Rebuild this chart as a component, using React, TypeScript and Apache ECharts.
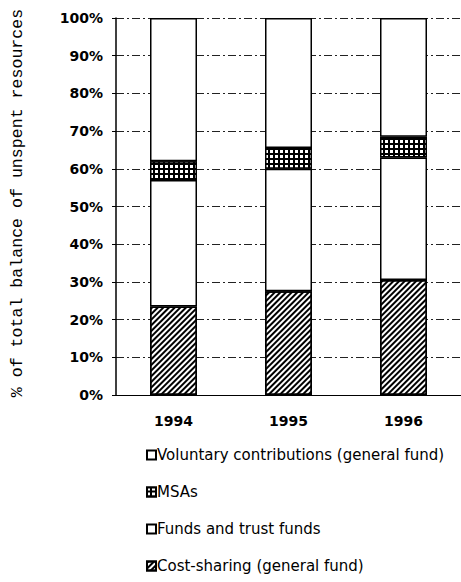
import React, { useEffect, useRef } from "react";
import * as echarts from "echarts";

const years = ["1994", "1995", "1996"];
const costSharing = [23.5, 27.5, 30.5];
const fundsTrust = [33.5, 32.5, 32.5];
const msas = [5, 5.5, 5.5];
const voluntary = [38, 34.5, 31.5];
const seriesNames = [
  "Voluntary contributions (general fund)",
  "MSAs",
  "Funds and trust funds",
  "Cost-sharing (general fund)",
];
const yTitle = "% of total balance of unspent resources";

export default function App() {
  const ref = useRef<HTMLDivElement>(null);
  useEffect(() => {
    const chart = echarts.init(ref.current!, null, { renderer: "svg" });
    const border = { borderColor: "#000", borderWidth: 1.5 };
    chart.setOption({
      animation: false,
      backgroundColor: "#fff",
      textStyle: { fontFamily: "DejaVu Sans, sans-serif" },
      grid: { left: 116, top: 18, width: 349, height: 377 },
      legend: {
        orient: "vertical",
        left: 146,
        top: 447,
        padding: 0,
        itemWidth: 9,
        itemHeight: 9,
        itemGap: 21,
        icon: "rect",
        data: seriesNames,
        textStyle: {
          fontSize: 15,
          color: "#000",
          fontFamily: "DejaVu Sans, sans-serif",
          padding: [0, 0, 0, -4],
          lineHeight: 16,
        },
      },
      xAxis: {
        type: "category",
        data: years,
        axisLine: { lineStyle: { color: "#000", width: 1.2 } },
        axisTick: { show: false },
        axisLabel: {
          fontSize: 14,
          fontWeight: "bold",
          color: "#000",
          margin: 19,
          fontFamily: "DejaVu Sans, sans-serif",
        },
      },
      yAxis: {
        type: "value",
        min: 0,
        max: 100,
        interval: 10,
        axisLine: { show: true, lineStyle: { color: "#000", width: 1.5 } },
        axisTick: { show: true, length: 4, lineStyle: { color: "#000" } },
        axisLabel: {
          formatter: "{value}%",
          fontSize: 14,
          fontWeight: "bold",
          color: "#000",
          margin: 13,
          fontFamily: "DejaVu Sans, sans-serif",
        },
        splitLine: {
          show: true,
          lineStyle: { color: "#222", width: 1, type: [8, 3, 2, 3] },
        },
      },
      graphic: [
        {
          type: "text",
          x: 17,
          y: 203,
          rotation: Math.PI / 2,
          style: {
            text: yTitle,
            fontFamily: "Liberation Mono, Courier New, monospace",
            fontSize: 16.6,
            fill: "#000",
            textAlign: "center",
            textVerticalAlign: "middle",
          },
        },
      ],
      series: [
        {
          name: seriesNames[3],
          type: "bar",
          stack: "s",
          barWidth: 47,
          data: costSharing,
          itemStyle: {
            color: "#fff",
            ...border,
            decal: {
              symbol: "rect",
              color: "#000",
              dashArrayX: [1, 0],
              dashArrayY: [1.5, 2],
              rotation: -Math.PI / 4,
            },
          },
        },
        {
          name: seriesNames[2],
          type: "bar",
          stack: "s",
          barWidth: 47,
          data: fundsTrust,
          itemStyle: { color: "#fff", ...border },
        },
        {
          name: seriesNames[1],
          type: "bar",
          stack: "s",
          barWidth: 47,
          data: msas,
          itemStyle: {
            color: "#000",
            ...border,
            decal: {
              symbol: "rect",
              color: "#fff",
              dashArrayX: [3, 1.5],
              dashArrayY: [2.5, 1.5],
              symbolSize: 1,
            },
          },
        },
        {
          name: seriesNames[0],
          type: "bar",
          stack: "s",
          barWidth: 47,
          data: voluntary,
          itemStyle: { color: "#fff", ...border },
        },
      ],
    });
    return () => chart.dispose();
  }, []);
  return (
    <div
      ref={ref}
      style={{ position: "fixed", left: 0, top: 0, width: 461, height: 582 }}
    />
  );
}
